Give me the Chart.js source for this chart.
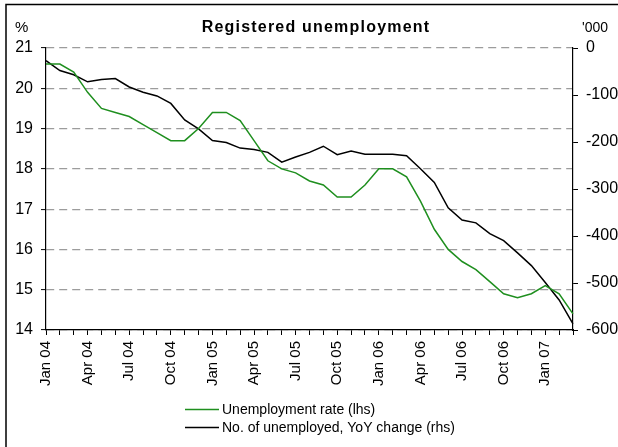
<!DOCTYPE html>
<html>
<head>
<meta charset="utf-8">
<script src="https://cdn.jsdelivr.net/npm/chart.js@4"></script>
<style>
  html, body { margin: 0; padding: 0; background: #ffffff; }
  #wrap { width: 618px; height: 447px; }
</style>
</head>
<body>
<div id="wrap"><canvas id="chart" width="618" height="447"></canvas></div>
<script>
// Monthly categories, Jan 2004 – Mar 2007
const months = [
  'Jan 04','Feb 04','Mar 04','Apr 04','May 04','Jun 04','Jul 04','Aug 04','Sep 04','Oct 04','Nov 04','Dec 04',
  'Jan 05','Feb 05','Mar 05','Apr 05','May 05','Jun 05','Jul 05','Aug 05','Sep 05','Oct 05','Nov 05','Dec 05',
  'Jan 06','Feb 06','Mar 06','Apr 06','May 06','Jun 06','Jul 06','Aug 06','Sep 06','Oct 06','Nov 06','Dec 06',
  'Jan 07','Feb 07','Mar 07'
];
// Months that carry a visible axis label
const labelledMonths = ['Jan','Apr','Jul','Oct'];

// Registered unemployment rate, % (left axis)
const unemploymentRate = [
  20.6, 20.6, 20.4, 19.9, 19.5, 19.4, 19.3, 19.1, 18.9, 18.7, 18.7, 19.0,
  19.4, 19.4, 19.2, 18.7, 18.2, 18.0, 17.9, 17.7, 17.6, 17.3, 17.3, 17.6,
  18.0, 18.0, 17.8, 17.2, 16.5, 16.0, 15.7, 15.5, 15.2, 14.9, 14.8, 14.9,
  15.1, 14.9, 14.4
];
// Number of unemployed, year-on-year change, thousands (right axis)
const unemployedYoY = [
  -27, -48, -57, -72, -67, -65, -83, -94, -102, -118, -153, -172,
  -197, -201, -213, -216, -222, -243, -232, -222, -209, -227, -219, -226,
  -226, -226, -229, -257, -286, -340, -366, -372, -395, -410, -436, -463,
  -499, -536, -587
];

const seriesNames = ['Unemployment rate (lhs)', 'No. of unemployed, YoY change (rhs)'];
const seriesColors = ['#1f8f1f', '#000000'];
const chartTitle = 'Registered unemployment';
const leftUnit = '%';
const rightUnit = "'000";

const FONT = "'Liberation Sans', Arial, sans-serif";

// Frame, title and unit captions
const decorations = {
  id: 'decorations',
  beforeDraw(chart) {
    const ctx = chart.ctx;
    ctx.save();
    ctx.fillStyle = '#ffffff';
    ctx.fillRect(0, 0, chart.width, chart.height);
    ctx.strokeStyle = '#000000';
    ctx.lineWidth = 1.5;
    ctx.beginPath();
    ctx.moveTo(6, chart.height);
    ctx.lineTo(6, 4.5);
    ctx.lineTo(chart.width, 4.5);
    ctx.stroke();
    ctx.restore();
  },
  afterDraw(chart) {
    const ctx = chart.ctx;
    const area = chart.chartArea;
    ctx.save();
    ctx.fillStyle = '#000000';
    ctx.textBaseline = 'alphabetic';
    ctx.font = 'bold 16px ' + FONT;
    if ('letterSpacing' in ctx) ctx.letterSpacing = '1.2px';
    ctx.textAlign = 'center';
    ctx.fillText(chartTitle, 316, 32);
    if ('letterSpacing' in ctx) ctx.letterSpacing = '0px';
    ctx.font = '15px ' + FONT;
    ctx.textAlign = 'left';
    ctx.fillText(leftUnit, 15, 32);
    ctx.font = '14px ' + FONT;
    ctx.fillText(rightUnit, area.right + 9, 32);
    ctx.restore();
  }
};

// Two-row legend below the axis labels
const stackedLegend = {
  id: 'stackedLegend',
  afterDraw(chart) {
    const ctx = chart.ctx;
    const rows = [409, 427];
    ctx.save();
    ctx.font = '14px ' + FONT;
    ctx.textBaseline = 'middle';
    ctx.textAlign = 'left';
    chart.data.datasets.forEach((ds, i) => {
      const y = rows[i];
      ctx.strokeStyle = ds.borderColor;
      ctx.lineWidth = 1.5;
      ctx.beginPath();
      ctx.moveTo(185, y + 0.5);
      ctx.lineTo(219, y + 0.5);
      ctx.stroke();
      ctx.fillStyle = '#000000';
      ctx.fillText(ds.label, 222, y + 1);
    });
    ctx.restore();
  }
};

new Chart(document.getElementById('chart'), {
  type: 'line',
  data: {
    labels: months,
    datasets: [
      {
        label: seriesNames[0],
        data: unemploymentRate,
        yAxisID: 'y',
        borderColor: seriesColors[0],
        borderWidth: 1.5,
        pointRadius: 0,
        tension: 0,
        fill: false
      },
      {
        label: seriesNames[1],
        data: unemployedYoY,
        yAxisID: 'y1',
        borderColor: seriesColors[1],
        borderWidth: 1.5,
        pointRadius: 0,
        tension: 0,
        fill: false
      }
    ]
  },
  options: {
    responsive: false,
    animation: false,
    devicePixelRatio: 1,
    layout: { padding: { top: 48, left: 0, right: 0, bottom: 0 } },
    plugins: {
      legend: { display: false },
      title: { display: false },
      tooltip: { enabled: false }
    },
    scales: {
      x: {
        offset: false,
        afterFit(scale) { scale.height = 117; },
        grid: {
          drawOnChartArea: false,
          drawTicks: true,
          tickLength: 5,
          tickColor: '#000000',
          tickWidth: 1
        },
        border: { display: true, color: '#000000', width: 1.2 },
        ticks: {
          autoSkip: false,
          minRotation: 90,
          maxRotation: 90,
          padding: 6,
          color: '#000000',
          font: { family: FONT, size: 15 },
          callback(value, index) {
            const m = months[index];
            return labelledMonths.includes(m.slice(0, 3)) ? m : '';
          }
        }
      },
      y: {
        position: 'left',
        min: 14,
        max: 21,
        afterFit(scale) { scale.width = 46; },
        grid: {
          drawOnChartArea: true,
          color: '#9c9c9c',
          lineWidth: 1.2,
          drawTicks: true,
          tickLength: 5,
          tickColor: '#000000',
          tickWidth: 1,
          tickBorderDash: []
        },
        border: { display: true, color: '#000000', width: 1.2, dash: [8, 5] },
        ticks: {
          stepSize: 1,
          padding: 8,
          color: '#000000',
          font: { family: FONT, size: 16 }
        }
      },
      y1: {
        position: 'right',
        min: -600,
        max: 0,
        afterFit(scale) { scale.width = 45; },
        grid: {
          drawOnChartArea: false,
          drawTicks: true,
          tickLength: 5,
          tickColor: '#000000',
          tickWidth: 1
        },
        border: { display: true, color: '#000000', width: 1.2 },
        ticks: {
          stepSize: 100,
          padding: 8,
          color: '#000000',
          font: { family: FONT, size: 16 }
        }
      }
    }
  },
  plugins: [decorations, stackedLegend]
});
</script>
</body>
</html>
